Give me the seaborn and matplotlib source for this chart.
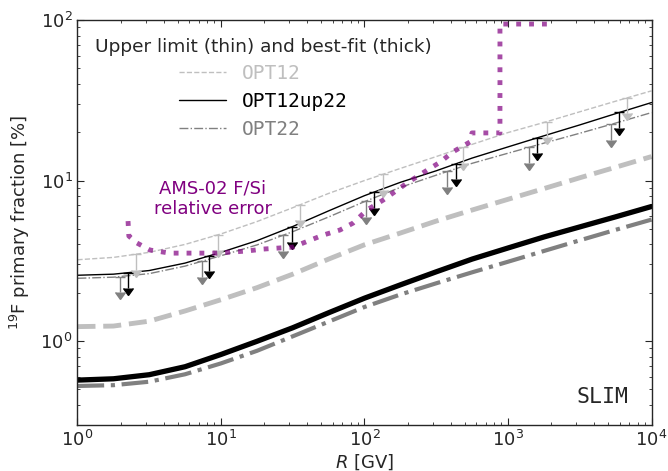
import numpy as np
import pandas as pd
import matplotlib
matplotlib.use("Agg")
import matplotlib.pyplot as plt
import seaborn as sns

sns.set_style("ticks", {"xtick.direction": "in", "ytick.direction": "in"})
plt.rcParams['font.family'] = ['DejaVu Sans']
plt.rcParams['mathtext.fontset'] = 'dejavusans'

#%% data
rig = [1.0, 1.78, 3.16, 5.62, 10.0, 17.8, 31.6, 56.2, 100.0, 178.0, 316.0, 562.0,
       1000.0, 1780.0, 3160.0, 5620.0, 10000.0]

# upper limits (thin)
opt12_ul = [3.21, 3.32, 3.57, 4.00, 4.65, 5.55, 6.77, 8.31, 10.0, 11.9, 14.1, 16.8,
            19.9, 23.0, 26.8, 31.2, 36.2]
opt12up22_ul = [2.57, 2.61, 2.75, 3.06, 3.57, 4.22, 5.17, 6.47, 8.05, 9.75, 11.5, 13.8,
                16.2, 19.0, 22.2, 26.1, 30.6]
opt22_ul = [2.46, 2.50, 2.63, 2.93, 3.40, 3.97, 4.80, 5.93, 7.39, 9.07, 10.8, 12.8,
            14.8, 17.1, 19.7, 22.8, 26.5]

# best fit (thick)
opt12_bf = [1.23, 1.24, 1.33, 1.54, 1.81, 2.15, 2.61, 3.24, 3.98, 4.71, 5.59, 6.55,
            7.64, 8.91, 10.4, 12.1, 14.1]
opt12up22_bf = [0.571, 0.582, 0.617, 0.692, 0.825, 0.996, 1.21, 1.50, 1.85, 2.24, 2.70,
                3.24, 3.80, 4.45, 5.14, 5.94, 6.89]
opt22_bf = [0.525, 0.531, 0.558, 0.621, 0.726, 0.869, 1.07, 1.32, 1.63, 1.95, 2.29,
            2.68, 3.12, 3.64, 4.24, 4.93, 5.71]

# rigidities where the upper-limit arrows are drawn
arr_opt12 = [2.56, 9.57, 35.5, 134, 486, 1860, 6780]
arr_opt12up22 = [2.26, 8.28, 31.1, 116, 431, 1600, 5970]
arr_opt22 = [1.98, 7.34, 27.2, 102, 378, 1400, 5220]

# AMS-02 F/Si relative error [%]
ams_r = [2.25, 2.28, 2.60, 3.20, 4.41, 6.38, 9.38, 15.2, 19.6, 31.8, 37.3, 51.4, 67.5,
         83.2, 104, 135, 198, 273, 336, 414, 544, 561, 879, 879, 1870]
ams_err = [5.59, 4.51, 4.08, 3.69, 3.53, 3.53, 3.53, 3.64, 3.74, 3.85, 4.08, 4.57, 4.92,
           5.43, 6.55, 7.56, 9.65, 11.6, 13.0, 15.1, 17.4, 19.8, 19.8, 94.4, 94.4]

labels = ['OPT12', 'OPT12up22', 'OPT22']
colors = ['0.75', 'black', '0.5']
styles = ['--', '-', '-.']

#%% plot
fig = plt.figure(figsize=(6.68, 4.71), dpi=100)
ax = fig.add_axes([0.116, 0.0977, 0.8593, 0.8598])

uls = [opt12_ul, opt12up22_ul, opt22_ul]
bfs = [opt12_bf, opt12up22_bf, opt22_bf]
arrs = [arr_opt12, arr_opt12up22, arr_opt22]
thick_lw = [3.5, 3.8, 3.0]

handles = []
for lab, c, ls, ul, bf, lw in zip(labels, colors, styles, uls, bfs, thick_lw):
    sns.lineplot(x=rig, y=ul, ax=ax, color=c, linestyle=ls, lw=1.0, sort=False,
                 estimator=None, errorbar=None)
    handles.append(ax.get_lines()[-1])
    sns.lineplot(x=rig, y=bf, ax=ax, color=c, linestyle=ls, lw=lw, sort=False,
                 estimator=None, errorbar=None)

# upper limit arrows
for c, ul, ar in zip(colors, uls, arrs):
    yv = 10 ** np.interp(np.log10(ar), np.log10(rig), np.log10(ul))
    ax.errorbar(ar, yv, yerr=0.2 * yv, uplims=True, fmt='none', color=c, ecolor=c,
                elinewidth=1.0, capsize=3.5)

sns.lineplot(x=ams_r, y=ams_err, ax=ax, color='purple', alpha=0.7, lw=3.5,
             linestyle=':', sort=False, estimator=None, errorbar=None)

ax.set_xscale('log')
ax.set_yscale('log')
ax.set_xlim(1, 1e4)
ax.set_ylim(0.3, 100)

ax.tick_params(which='both', direction='in', top=True, right=True, labelsize=13)
ax.tick_params(which='major', length=5, width=0.8)
ax.tick_params(which='minor', length=2.5, width=0.6)
for s in ax.spines.values():
    s.set_linewidth(1.0)

ax.set_xlabel(r'$R$ [GV]', fontsize=13, labelpad=2)
ax.set_ylabel(r'$^{19}$F primary fraction [%]', fontsize=13, labelpad=6)

ax.text(8.73, 7.67, 'AMS-02 F/Si\nrelative error', color='purple', fontsize=13,
        ha='center', va='center')
ax.text(0.9596, 0.069, 'SLIM', transform=ax.transAxes, ha='right', va='center',
        family='DejaVu Sans Mono', fontsize=15.5)

leg = ax.legend(handles, labels, title='Upper limit (thin) and best-fit (thick)',
                frameon=False, loc='upper left', bbox_to_anchor=(0.0, 1.0),
                prop={'family': 'DejaVu Sans Mono', 'size': 14}, title_fontsize=13.3,
                handlelength=2.4, handletextpad=0.8, labelspacing=0.45)
for t, c in zip(leg.get_texts(), colors):
    t.set_color(c)

fig.savefig('out.png', dpi=100)
